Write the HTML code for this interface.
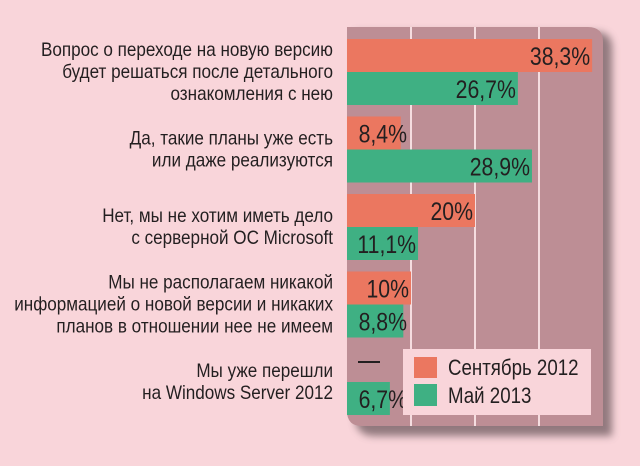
<!DOCTYPE html>
<html><head><meta charset="utf-8"><style>
html,body{margin:0;padding:0;background:#f9d5da;}
svg{display:block;font-family:"Liberation Sans","DejaVu Sans",sans-serif;}
</style></head><body>
<svg id="chart" width="640" height="466" viewBox="0 0 640 466">
<defs>
<filter id="sh" x="-10%" y="-10%" width="130%" height="130%"><feGaussianBlur stdDeviation="4"/></filter>
</defs>
<rect x="0" y="0" width="640" height="466" fill="#f9d5da"/>
<path d="M355 32 H596 Q612 32 612 48 V436 H375 Q355 436 355 416 Z" fill="#6e5a5e" opacity="0.75" filter="url(#sh)"/>
<path d="M347 27 H588 Q603 27 603 42 V426 H362 Q347 426 347 411 Z" fill="#bd8e95"/>
<g id="grid"></g>
<g id="bars"></g>
<g id="labels"></g>
<g id="legend">
<rect x="403" y="349" width="188" height="66" fill="#f9d5da"/>
<rect x="414" y="357" width="23" height="21" fill="#eb7760"/>
<rect x="414" y="384" width="23" height="22" fill="#3fb083"/>
<text transform="translate(448,375) scale(0.85,1)" font-size="22" fill="#231f20">Сентябрь 2012</text>
<text transform="translate(448,403) scale(0.85,1)" font-size="22" fill="#231f20">Май 2013</text>
</g>
</svg>
<script>
const categories = [
 ["Вопрос о переходе на новую версию","будет решаться после детального","ознакомления с нею"],
 ["Да, такие планы уже есть","или даже реализуются"],
 ["Нет, мы не хотим иметь дело","с серверной ОС Microsoft"],
 ["Мы не располагаем никакой","информацией о новой версии и никаких","планов в отношении нее не имеем"],
 ["Мы уже перешли","на Windows Server 2012"]
];
const sep2012 = [38.3, 8.4, 20, 10, null];
const may2013 = [26.7, 28.9, 11.1, 8.8, 6.7];
const sepLabels = ["38,3%","8,4%","20%","10%","—"];
const mayLabels = ["26,7%","28,9%","11,1%","8,8%","6,7%"];
const gridTicks = [10, 20, 30];

const NS="http://www.w3.org/2000/svg";
const x0=347, pxPer=6.4, groupTop=39, groupStep=77.5, barH=33;
const xs = v => x0 + v*pxPer;
function mk(tag, attrs, parent){const e=document.createElementNS(NS,tag);for(const k in attrs)e.setAttribute(k,attrs[k]);parent.appendChild(e);return e;}
const grid=document.getElementById('grid'), bars=document.getElementById('bars'), labels=document.getElementById('labels');
gridTicks.forEach(t=>{
 const l=mk('line',{x1:xs(t),x2:xs(t),y1:27,y2:426,stroke:'#f5dde0','stroke-width':2},grid);
 
 
});
function valText(v,lab,y){
 const end=Math.max(xs(v)-2,407);
 const t=mk('text',{transform:`translate(${end},${y+26}) scale(0.85,1)`,'text-anchor':'end','font-size':25,fill:'#231f20'},bars);
 t.textContent=lab;
 
 
}
categories.forEach((lines,i)=>{
 const gy=groupTop+i*groupStep;
 if(sep2012[i]!=null){
  const r=mk('rect',{x:x0,y:gy,width:xs(sep2012[i])-x0,height:barH,fill:'#eb7760'},bars);
  
  
  valText(sep2012[i],sepLabels[i],gy);
 } else {
  const d=mk('line',{x1:358,x2:380,y1:gy+13,y2:gy+13,stroke:'#231f20','stroke-width':2},bars);
  
  
 }
 const r2=mk('rect',{x:x0,y:gy+barH,width:xs(may2013[i])-x0,height:barH,fill:'#3fb083'},bars);
 
 
 valText(may2013[i],mayLabels[i],gy+barH);
 const mid=gy+barH;
 const n=lines.length, lh=22;
 lines.forEach((s,j)=>{
  const by=mid-(n-1)*lh/2+j*lh+6;
  const t=mk('text',{transform:`translate(333,${by}) scale(0.9,1)`,'text-anchor':'end','font-size':19,fill:'#231f20'},labels);
  t.textContent=s;
  
  
 });
});
</script>
</body></html>
